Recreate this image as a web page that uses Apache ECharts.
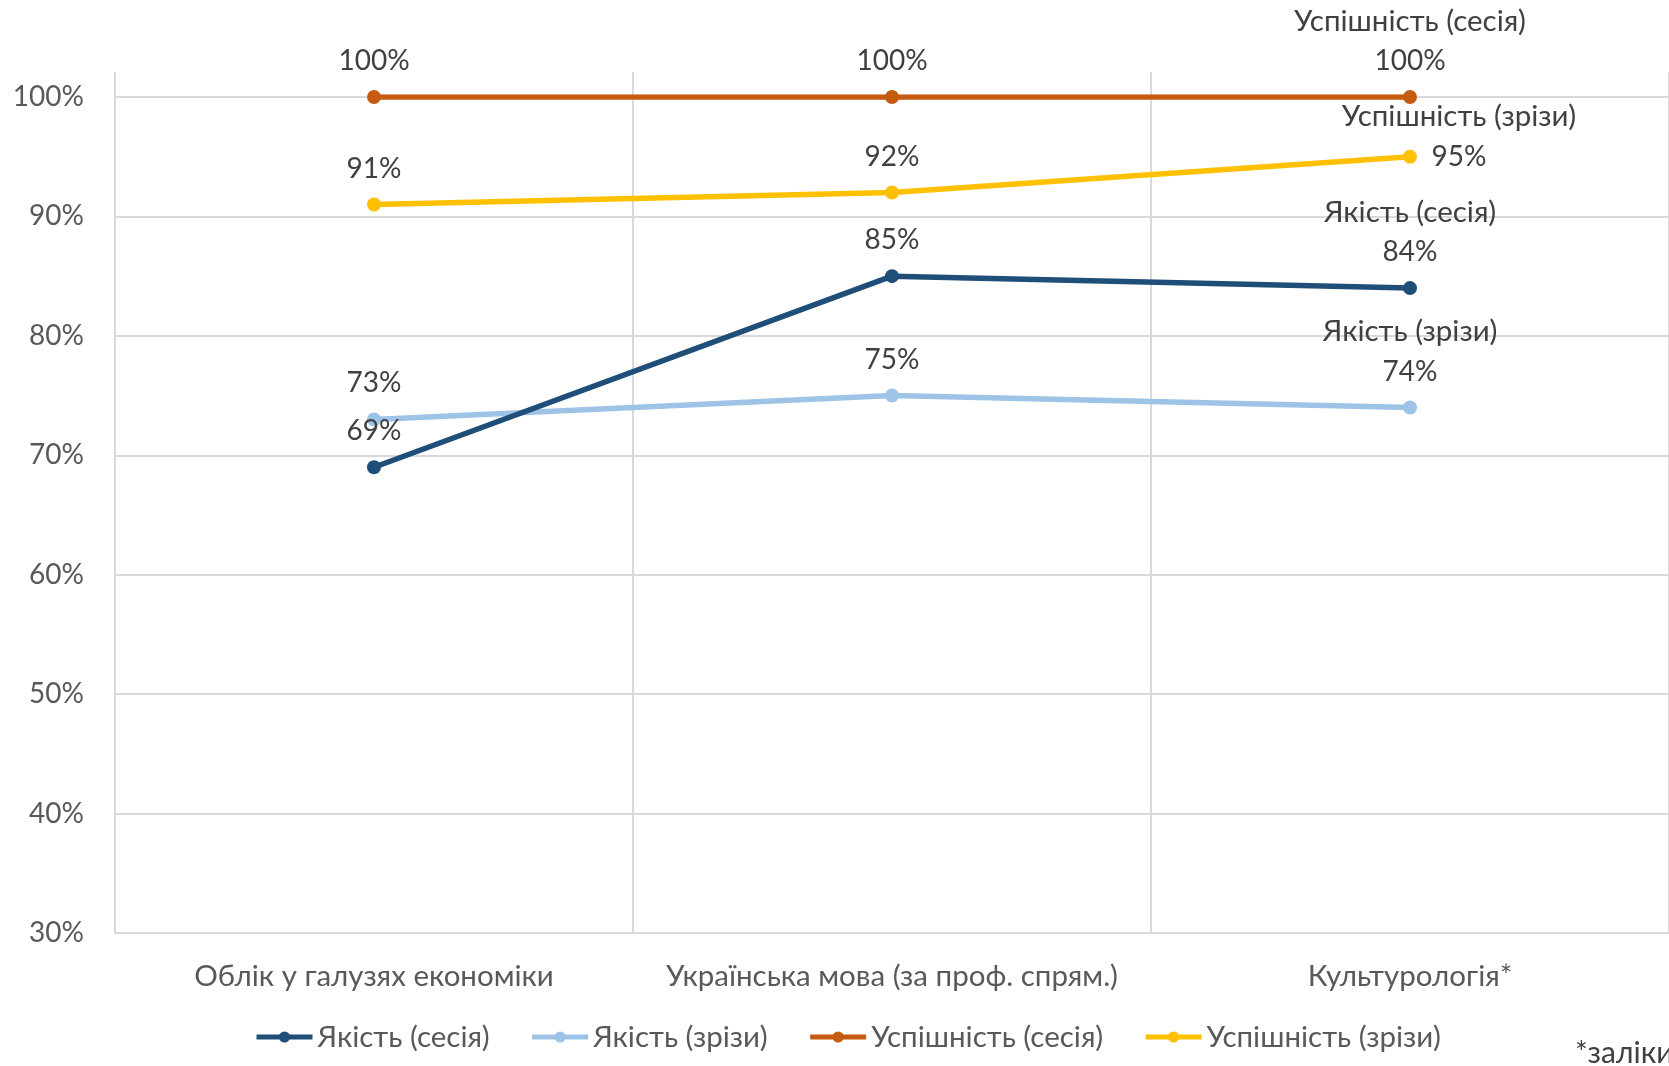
<!DOCTYPE html>
<html>
<head>
<meta charset="utf-8">
<script src="https://cdn.jsdelivr.net/npm/echarts@6.0.0/dist/echarts.min.js"></script>
<style>
html,body{margin:0;padding:0;background:#fff;}
#chart{width:1669px;height:1066px;}
</style>
</head>
<body>
<div id="chart"></div>
<script>
// дані
var categories = ['Облік у галузях економіки', 'Українська мова (за проф. спрям.)', 'Культурологія*'];
var seriesNames = ['Якість (сесія)', 'Якість (зрізи)', 'Успішність (сесія)', 'Успішність (зрізи)'];
var qualitySession = [69, 85, 84];
var qualityCuts = [73, 75, 74];
var successSession = [100, 100, 100];
var successCuts = [91, 92, 95];
var yMin = 30, yMax = 100, yStep = 10;

var colors = ['#1F4E79', '#9DC3E6', '#C55A11', '#FFC000'];
var font = 'Lato';

function makeSeries(idx, values) {
    return {
        name: seriesNames[idx],
        type: 'line',
        xAxisIndex: 0,
        yAxisIndex: 0,
        data: values,
        symbol: 'circle',
        symbolSize: 14,
        lineStyle: {width: 5.5, color: colors[idx]},
        itemStyle: {color: colors[idx]},
        z: 10 - idx,
        label: {
            show: true,
            position: 'top',
            distance: 9,
            fontFamily: font,
            fontSize: 28,
            lineHeight: 40,
            color: '#404040',
            align: 'center',
            rich: {
                n: {fontFamily: font, fontSize: 29.5, lineHeight: 40, color: '#404040'},
                v: {fontFamily: font, fontSize: 28, lineHeight: 40, color: '#404040'}
            },
            formatter: function (p) {
                if (p.dataIndex === 2) return '{n|' + p.seriesName + '}\n{v|' + p.value + '%}';
                return '{v|' + p.value + '%}';
            }
        }
    };
}

var series = [
    makeSeries(0, qualitySession),
    makeSeries(1, qualityCuts),
    makeSeries(2, successSession),
    makeSeries(3, successCuts)
];
// останній підпис "Успішність (зрізи)" стоїть праворуч від точки
series[3].data = successCuts.map(function (v, i) {
    if (i === 2) return {value: v, label: {offset: [49, 36]}};
    return v;
});

var myChart = echarts.init(document.getElementById('chart'));
var option = {
    backgroundColor: '#fff',
    animation: false,
    color: colors,
    grid: [
        {left: 115, right: -6, top: 97, bottom: 133},
        {left: 115, right: -6, top: 72, bottom: 133}
    ],
    legend: {
        data: seriesNames,
        left: 249,
        top: 1017,
        itemWidth: 56,
        itemHeight: 14,
        itemGap: 40,
        lineStyle: {width: 5},
        textStyle: {fontFamily: font, fontSize: 29.5, color: '#595959'}
    },
    xAxis: [
        {
            type: 'category', gridIndex: 0, data: categories,
            axisLine: {lineStyle: {color: '#D9D9D9', width: 2}},
            axisTick: {show: false},
            splitLine: {show: false},
            axisLabel: {interval: 0, margin: 28, fontFamily: font, fontSize: 29.5, color: '#595959'}
        },
        {
            type: 'category', gridIndex: 1, data: categories,
            axisLine: {show: false}, axisTick: {show: false}, axisLabel: {show: false},
            splitLine: {show: true, lineStyle: {color: '#D9D9D9', width: 2}}
        }
    ],
    yAxis: [
        {
            type: 'value', gridIndex: 0, min: yMin, max: yMax, interval: yStep,
            axisLine: {show: false}, axisTick: {show: false},
            axisLabel: {margin: 31, fontFamily: font, fontSize: 28, color: '#595959', formatter: '{value}%'},
            splitLine: {lineStyle: {color: '#D9D9D9', width: 2}}
        },
        {type: 'value', gridIndex: 1, show: false, splitLine: {show: false}}
    ],
    graphic: [{
        type: 'text', left: 1575, top: 1038,
        style: {text: '*заліки', font: '30px Lato', fill: '#404040'}
    }],
    series: series
};
myChart.setOption(option);
window.addEventListener('resize', function () {
    myChart.resize();
});
</script>
</body>
</html>
